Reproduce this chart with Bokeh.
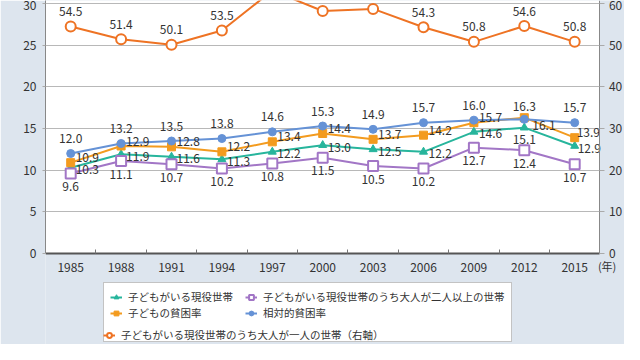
from bokeh.plotting import figure
from bokeh.models import (Range1d, LinearAxis, FixedTicker, Legend, LegendItem,
                          ColumnDataSource, Label, BoxAnnotation)
from bokeh.core.properties import value
from bokeh.embed import file_html
from bokeh.resources import INLINE

# ---- data ----
years = ["1985", "1988", "1991", "1994", "1997", "2000", "2003", "2006", "2009", "2012", "2015"]
working_with_children = [10.3, 11.9, 11.6, 11.3, 12.2, 13.0, 12.5, 12.2, 14.6, 15.1, 12.9]
two_plus_adults = [9.6, 11.1, 10.7, 10.2, 10.8, 11.5, 10.5, 10.2, 12.7, 12.4, 10.7]
child_poverty = [10.9, 12.9, 12.8, 12.2, 13.4, 14.4, 13.7, 14.2, 15.7, 16.3, 13.9]
relative_poverty = [12.0, 13.2, 13.5, 13.8, 14.6, 15.3, 14.9, 15.7, 16.0, 16.1, 15.7]
single_adult = [54.5, 51.4, 50.1, 53.5, 63.1, 58.2, 58.7, 54.3, 50.8, 54.6, 50.8]
left_ticks = [0, 5, 10, 15, 20, 25, 30]
right_ticks = [0, 10, 20, 30, 40, 50, 60]
year_unit = "(年)"

names = {
    "teal": "子どもがいる現役世帯",
    "purple": "子どもがいる現役世帯のうち大人が二人以上の世帯",
    "orange_sq": "子どもの貧困率",
    "blue": "相対的貧困率",
    "orange": "子どもがいる現役世帯のうち大人が一人の世帯（右軸）",
}

FONT = "Noto Sans CJK JP"
TEAL = "#27b59c"
PURPLE = "#a276c6"
ORSQ = "#f39b1f"
BLUE = "#6592d6"
ORANGE = "#ee7324"
BG = "#dde5ee"
TXT = "#333333"

xs = list(range(len(years)))
X0, X1 = -0.5, len(years) - 0.5          # plotting area in category units
Y_TOP = 30.36                              # chart is cropped at the top in the reference
PX_PER_X = 50.4
PX_PER_Y = 253 / Y_TOP
FRAME_W, FRAME_H = 579, 344
x_end = X0 + FRAME_W / PX_PER_X
y_start = Y_TOP - FRAME_H / PX_PER_Y

p = figure(frame_width=FRAME_W, frame_height=FRAME_H,
           x_range=Range1d(X0, x_end), y_range=Range1d(y_start, Y_TOP),
           output_backend="svg", toolbar_location=None,
           min_border_left=45, min_border_right=0, min_border_top=0, min_border_bottom=0,
           background_fill_color=BG, border_fill_color=BG, outline_line_color=None)
p.extra_y_ranges = {"right": Range1d(2 * y_start, 2 * Y_TOP)}

# white plotting area
p.add_layout(BoxAnnotation(bottom=0, right=X1, fill_color="white", fill_alpha=1,
                           line_alpha=0, level="image"))

# x axis, fixed at y = 0
xa = p.xaxis[0]
xa.fixed_location = 0
xa.bounds = (X0, X1)
xa.ticker = FixedTicker(ticks=xs, minor_ticks=[i + 0.5 for i in xs[:-1]])
xa.major_label_overrides = {i: y for i, y in zip(xs, years)}
xa.major_tick_line_color = None
xa.minor_tick_line_color = "#777777"
xa.minor_tick_in = 4
xa.minor_tick_out = 0
xa.axis_line_color = "#555555"
xa.axis_line_width = 2
xa.major_label_standoff = 3
xa.major_label_text_font = FONT
xa.major_label_text_font_size = "12px"
xa.major_label_text_color = TXT
p.xgrid.visible = False

# left y axis
ya = p.yaxis[0]
ya.bounds = (0, Y_TOP)
ya.ticker = FixedTicker(ticks=left_ticks)
ya.axis_line_color = "#888888"
ya.major_tick_in = 0
ya.major_tick_out = 3
ya.major_tick_line_color = "#aaaaaa"
ya.minor_tick_line_color = None
ya.major_label_standoff = 6
ya.major_label_text_font = FONT
ya.major_label_text_font_size = "12px"
ya.major_label_text_color = TXT
p.ygrid.ticker = FixedTicker(ticks=left_ticks)
p.ygrid.grid_line_color = "#b8b8b8"

# grid lines stop at the right axis
p.add_layout(BoxAnnotation(left=X1, fill_color=BG, fill_alpha=1, line_alpha=0, level="underlay"))

# right y axis, fixed at the right edge of the plotting area
ra = LinearAxis(y_range_name="right", ticker=FixedTicker(ticks=right_ticks),
                fixed_location=X1, bounds=(0, 2 * Y_TOP))
ra.axis_line_color = "#888888"
ra.major_tick_in = 0
ra.major_tick_out = 5
ra.major_tick_line_color = "#aaaaaa"
ra.minor_tick_line_color = None
ra.major_label_standoff = 4
ra.major_label_text_font = FONT
ra.major_label_text_font_size = "12px"
ra.major_label_text_color = TXT
p.add_layout(ra, "right")

# unit of the x axis
p.add_layout(Label(x=X1, y=0, x_offset=-2, y_offset=-12, text=year_unit,
                   text_baseline="middle", text_align="left", text_font=FONT,
                   text_font_size="11px", text_color=TXT))

# ---- series ----
styles = {
    "teal": dict(data=working_with_children, color=TEAL, marker="triangle", size=8, fill=TEAL, rng="default"),
    "purple": dict(data=two_plus_adults, color=PURPLE, marker="square", size=10, fill="white", rng="default"),
    "orange_sq": dict(data=child_poverty, color=ORSQ, marker="square", size=8, fill=ORSQ, rng="default"),
    "blue": dict(data=relative_poverty, color=BLUE, marker="circle", size=8, fill=BLUE, rng="default"),
    "orange": dict(data=single_adult, color=ORANGE, marker="circle", size=10, fill="white", rng="right"),
}
rends = {}
for k, s in styles.items():
    r1 = p.line(xs, s["data"], line_color=s["color"], line_width=2, y_range_name=s["rng"])
    r2 = p.scatter(xs, s["data"], marker=s["marker"], size=s["size"], fill_color=s["fill"],
                   line_color=s["color"], line_width=2 if s["fill"] == "white" else 1,
                   y_range_name=s["rng"])
    rends[k] = [r1, r2]

# ---- value labels ----
def add_labels(vals, xo, yo, align, y_range_name="default", keep=None):
    idx = [i for i in xs if keep is None or keep(vals[i])]
    src = ColumnDataSource(dict(x=[xs[i] for i in idx], y=[vals[i] for i in idx],
                                t=[f"{vals[i]:.1f}" for i in idx],
                                xo=[xo[i] for i in idx], yo=[yo[i] for i in idx],
                                al=[align[i] for i in idx]))
    p.text(x="x", y="y", text="t", x_offset="xo", y_offset="yo", text_align="al",
           text_baseline="middle", source=src, text_font=value(FONT),
           text_font_size="12px", text_color=TXT, y_range_name=y_range_name)

n = len(xs)
special = years.index("2012")
last = n - 1

add_labels(working_with_children,
           [0 if i == special else (3 if i == last else 5) for i in xs],
           [12 if i == special else 2 for i in xs],
           ["center" if i == special else "left" for i in xs])
add_labels(two_plus_adults, [0] * n, [13] * n, ["center"] * n)
add_labels(child_poverty,
           [0 if i == special else (2 if i == last else 5) for i in xs],
           [-11 if i == special else -5 for i in xs],
           ["center" if i == special else "left" for i in xs])
add_labels(relative_poverty,
           [8 if i == special else 0 for i in xs],
           [6 if i == special else -15 for i in xs],
           ["left" if i == special else "center" for i in xs])
# labels of points above the cropped top are not visible in the reference
add_labels(single_adult, [0] * n, [-15] * n, ["center"] * n, y_range_name="right",
           keep=lambda v: v < 2 * Y_TOP - 4)

# ---- legend ----
ghost = p.line(xs, relative_poverty, line_alpha=0)
leg_style = dict(location=(58, 2), orientation="vertical", glyph_width=12, glyph_height=14,
                 label_height=14, label_width=116, label_standoff=6, spacing=1, padding=6,
                 margin=0, label_text_font=FONT, label_text_font_size="10.5px",
                 label_text_color=TXT)
legA = Legend(items=[LegendItem(label=names["teal"], renderers=rends["teal"]),
                     LegendItem(label=names["orange_sq"], renderers=rends["orange_sq"]),
                     LegendItem(label=" ", renderers=[ghost]),
                     LegendItem(label=names["purple"], renderers=rends["purple"]),
                     LegendItem(label=names["blue"], renderers=rends["blue"])],
              ncols=2, border_line_color="#888888", border_line_width=1,
              background_fill_color="white", background_fill_alpha=1, **leg_style)
legB = Legend(items=[LegendItem(label=names["orange"], renderers=rends["orange"])],
              border_line_color=None, background_fill_alpha=0, **leg_style)
p.add_layout(legA, "center")
p.add_layout(legB, "center")

open("out.html", "w").write(file_html(p, INLINE))
